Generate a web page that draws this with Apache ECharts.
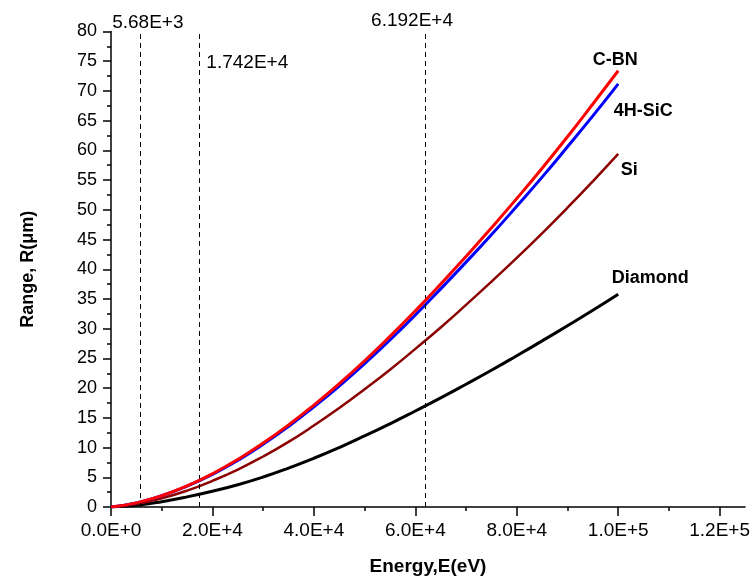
<!DOCTYPE html>
<html><head><meta charset="utf-8">
<script src="https://cdn.jsdelivr.net/npm/echarts@6/dist/echarts.min.js"></script>
<style>html,body{margin:0;padding:0;background:#fff}#c{width:755px;height:584px}</style>
</head><body><div id="c"></div>
<script>
// ---- data ----
const energy = [0,5000,10000,15000,20000,25000,30000,35000,40000,45000,50000,55000,60000,65000,70000,75000,80000,85000,90000,95000,100000];
const cbn     = [0,0.7,1.9,3.55,5.6,8.0,10.75,13.8,17.15,20.75,24.6,28.7,33.0,37.5,42.15,46.95,51.9,57.0,62.3,67.8,73.4];
const sic4h   = [0,0.7,1.9,3.5,5.5,7.85,10.55,13.55,16.85,20.35,24.1,28.1,32.3,36.7,41.2,45.8,50.6,55.5,60.6,65.8,71.2];
const si      = [0,0.5,1.45,2.75,4.4,6.3,8.5,10.95,13.7,16.65,19.8,23.1,26.6,30.2,34.0,37.9,41.9,46.05,50.35,54.8,59.4];
const diamond = [0,0.3,0.9,1.7,2.65,3.75,5.05,6.55,8.2,10.0,11.95,14.0,16.15,18.35,20.65,23.0,25.45,27.95,30.5,33.1,35.8];
const seriesNames = ['C-BN','4H-SiC','Si','Diamond'];
const xTickValues = [0,20000,40000,60000,80000,100000,120000];
const xMinorTickValues = [10000,30000,50000,70000,90000,110000];
const markerEnergies = [5680,17420,61920];
const markerLabels = ['5.68E+3','1.742E+4','6.192E+4'];
const markerLabelY = [80,74.7,80];

function pts(vals){ return energy.map((e,i)=>[e, vals[i]]); }
function sci(v){
  if (v === 0) return '0.0E+0';
  const ex = Math.floor(Math.log10(v) + 1e-9);
  const m = v / Math.pow(10, ex);
  return m.toFixed(1) + 'E+' + ex;
}
const FONT = '"Liberation Sans", Arial, sans-serif';
const endLbl = (offset) => ({show:true, formatter:'{a}', distance:0, align:'center', verticalAlign:'middle',
  offset, fontFamily:FONT, fontWeight:'bold', fontSize:18, color:'#000'});

const chart = echarts.init(document.getElementById('c'), null, {renderer:'canvas'});
chart.setOption({
  animation:false,
  backgroundColor:'#fff',
  grid:{left:111, right:10, top:31.5, bottom:77, containLabel:false},
  xAxis:[{
    type:'value', min:0, max:125000,
    name:'Energy,E(eV)', nameLocation:'middle', nameGap:50,
    nameTextStyle:{fontFamily:FONT, fontWeight:'bold', fontSize:19, color:'#000'},
    axisLine:{show:true, onZero:false, lineStyle:{color:'#000', width:1.5}},
    axisTick:{show:true, inside:false, length:9, customValues:xTickValues, lineStyle:{color:'#000', width:1.5}},
    axisLabel:{show:true, customValues:xTickValues, margin:14, formatter:sci, fontFamily:FONT, fontSize:19, color:'#000'},
    splitLine:{show:false}
  },{
    type:'value', min:0, max:125000, position:'bottom', gridIndex:0,
    axisLine:{show:false},
    axisTick:{show:true, inside:false, length:4, customValues:xMinorTickValues, lineStyle:{color:'#000', width:1.5}},
    axisLabel:{show:false},
    splitLine:{show:false}
  }],
  yAxis:{
    type:'value', min:0, max:80, interval:5,
    name:'Range, R(\u03bcm)', nameLocation:'middle', nameGap:74, nameRotate:90,
    nameTextStyle:{fontFamily:FONT, fontWeight:'bold', fontSize:18, color:'#000'},
    axisLine:{show:true, onZero:false, lineStyle:{color:'#000', width:1.5}},
    axisTick:{show:true, inside:false, length:8, lineStyle:{color:'#000', width:1.5}},
    minorTick:{show:true, splitNumber:2, length:4, lineStyle:{color:'#000', width:1.5}},
    axisLabel:{margin:14, fontFamily:FONT, fontSize:18, color:'#000'},
    splitLine:{show:false}
  },
  series:[
    {name:seriesNames[3], type:'line', data:pts(diamond), smooth:true, showSymbol:false,
     lineStyle:{color:'#000000', width:3}, itemStyle:{color:'#000'}, z:2,
     endLabel:endLbl([32,-16]),
     markLine:{silent:true, symbol:'none', label:{show:false},
       lineStyle:{color:'#000', width:1, type:[5,4]},
       data:markerEnergies.map(v=>({xAxis:v}))}},
    {name:seriesNames[2], type:'line', data:pts(si), smooth:true, showSymbol:false,
     lineStyle:{color:'#8b0000', width:2.5}, itemStyle:{color:'#8b0000'}, z:3,
     endLabel:endLbl([11,16])},
    {name:seriesNames[1], type:'line', data:pts(sic4h), smooth:true, showSymbol:false,
     lineStyle:{color:'#0000ff', width:3}, itemStyle:{color:'#0000ff'}, z:4,
     endLabel:endLbl([25,27])},
    {name:seriesNames[0], type:'line', data:pts(cbn), smooth:true, showSymbol:false,
     lineStyle:{color:'#ff0000', width:3}, itemStyle:{color:'#ff0000'}, z:5,
     endLabel:endLbl([-3,-11])},
    {name:'markers', type:'scatter', symbolSize:0, silent:true, z:6,
     itemStyle:{opacity:1, color:'#000'},
     data:markerEnergies.map((v,i)=>{
       const cfgs = [
         {position:'top', distance:0, offset:[8,1]},
         {position:'right', distance:7, offset:[0,0]},
         {position:'top', distance:1, offset:[-13,0]}
       ];
       return {value:[v, markerLabelY[i]], label:Object.assign({show:true, formatter:markerLabels[i],
         fontFamily:FONT, fontSize:19, color:'#000', opacity:1}, cfgs[i])};
     })}
  ]
});
</script></body></html>
